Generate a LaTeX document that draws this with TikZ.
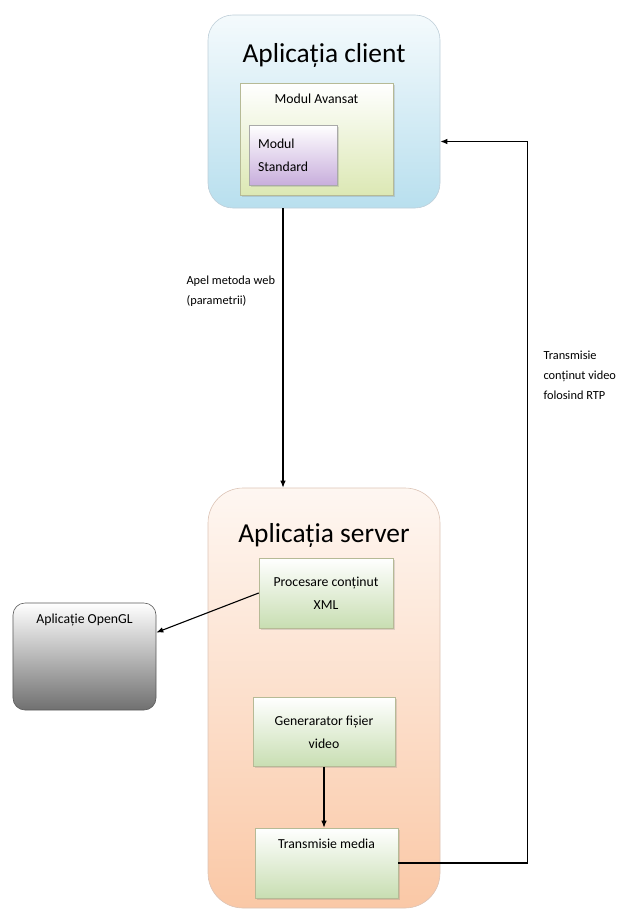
\documentclass[tikz,border=0pt]{standalone}
\usepackage{fontspec}
\setmainfont{Carlito}
\usepackage{tikz}
\usetikzlibrary{positioning,arrows.meta,shadows}
\definecolor{skyblue}{RGB}{184,223,238}
\definecolor{peach}{RGB}{250,200,166}
\definecolor{sage}{RGB}{200,222,178}
\definecolor{straw}{RGB}{220,232,180}
\definecolor{lilac}{RGB}{200,174,220}
\definecolor{slate}{RGB}{112,112,112}
\definecolor{rimblue}{RGB}{190,206,216}
\definecolor{rimpeach}{RGB}{220,196,182}
\definecolor{rimsage}{RGB}{182,186,150}

\begin{document}
\begin{tikzpicture}[x=1bp,y=-1bp,font=\fontsize{13.8}{23}\selectfont,
  panel/.style={rectangle,line width=0.6bp,minimum width=232bp},
  ttl/.style={font=\fontsize{27.5}{30}\selectfont},
  box/.style={rectangle,draw=rimsage,line width=0.6bp,top color=white,bottom color=sage,align=center,
    drop shadow={opacity=0.25,shadow xshift=1.5bp,shadow yshift=-1.5bp}},
  toplbl/.style={anchor=north,yshift=-8bp},
  note/.style={align=left,font=\fontsize{12.4}{20.5}\selectfont},
  ar/.style={-{Latex[length=7bp,width=5.5bp]},line width=1.1bp}]
  \useasboundingbox (0,0) rectangle (617,913);
  % client side
  \node[panel,rounded corners=25bp,draw=rimblue,top color=white!85!skyblue,bottom color=skyblue,minimum height=193bp](client) at (324,111.5){};
  \node[ttl](clientttl) at (324,55){Aplicația client};
  \node[box,bottom color=straw,minimum width=153bp,minimum height=112bp,
    label={[toplbl]north:Modul Avansat}](adv) at (316.5,139){};
  \node[box,draw=slate!60,bottom color=lilac,minimum width=88bp,minimum height=60bp,
    text width=70bp,align=left](std) at (293,155){Modul\\Standard};
  % server side
  \node[panel,rounded corners=35bp,draw=rimpeach,top color=white!85!peach,bottom color=peach,minimum height=420bp](server) at (324,698){};
  \node[ttl](serverttl) at (324,535){Aplicația server};
  \node[box,minimum width=134bp,minimum height=70bp](xml) at (326,593){Procesare conținut\\XML};
  \node[box,minimum width=142bp,minimum height=69bp](gen) at (324,732){Generarator fișier\\video};
  \node[box,minimum width=143bp,minimum height=70bp,
    label={[toplbl]north:Transmisie media}](media) at (326.5,863){};
  \node[rectangle,rounded corners=12bp,draw=slate!80!black,line width=0.6bp,top color=white,bottom color=slate,
    minimum width=143bp,minimum height=107bp,label={[toplbl]north:Aplicație OpenGL}](gl) at (84.5,656.5){};
  % connectors
  \draw[ar]([xshift=-41bp]client.south)--([xshift=-41bp]server.north);
  \node[note,anchor=north west](call) at (183,272){Apel metoda web\\(parametrii)};
  \draw[ar](xml.west)--([yshift=24bp]gl.east);
  \draw[ar](gen.south)--(gen.south |- media.north);
  \draw[ar](media.east)-|([xshift=87bp,yshift=-30bp]client.east)--([yshift=-30bp]client.east);
  \node[note,anchor=north west](rtp) at (540,347){Transmisie\\conținut video\\folosind RTP};
\end{tikzpicture}
\end{document}
